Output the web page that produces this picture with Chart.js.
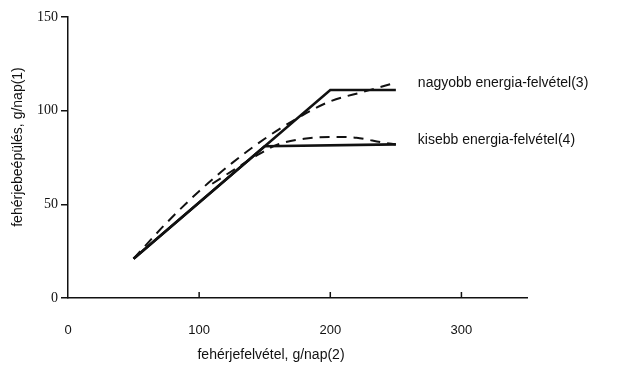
<!DOCTYPE html>
<html>
<head>
<meta charset="utf-8">
<script src="https://cdn.jsdelivr.net/npm/chart.js@4"></script>
<style>
  html, body { margin: 0; padding: 0; background: #fff; }
  #wrap { width: 617px; height: 366px; position: relative; }
</style>
</head>
<body>
<div id="wrap"><canvas id="chart" width="617" height="366"></canvas></div>
<script>
// values (g/nap)
const xTicks = [0, 100, 200, 300];
const yTicks = [0, 50, 100, 150];

const solidHighX = [50, 200, 250];
const solidHighY = [21, 111, 111];
const solidLowX = [50, 150, 250];
const solidLowY = [21, 81, 82];

const dashHighX = [50, 75, 100, 125, 150, 175, 200, 225, 250];
const dashHighY = [21, 40, 57, 72, 85, 96, 105, 110, 115];
const dashLowX = [110, 130, 145, 160, 180, 200, 220, 240, 250];
const dashLowY = [61, 70, 76.5, 82, 85, 86, 85.5, 83, 82];

const seriesLabels = ['nagyobb energia-felvétel(3)', 'kisebb energia-felvétel(4)'];
const xTitle = 'fehérjefelvétel, g/nap(2)';
const yTitle = 'fehérjebeépülés, g/nap(1)';

const pts = (xs, ys) => xs.map((x, i) => ({ x, y: ys[i] }));
const ink = '#111';
const sans = '"Liberation Sans", Arial, sans-serif';

// end-of-line labels, inward x ticks and axis titles
const annotate = {
  id: 'annotate',
  afterDraw(chart) {
    const { ctx, scales: { x, y }, chartArea } = chart;
    ctx.save();
    ctx.fillStyle = ink;
    ctx.strokeStyle = ink;
    ctx.font = '14px ' + sans;
    ctx.textBaseline = 'middle';
    ctx.textAlign = 'left';
    ctx.fillText(seriesLabels[0], x.getPixelForValue(250) + 22, y.getPixelForValue(115) + 1);
    ctx.fillText(seriesLabels[1], x.getPixelForValue(250) + 22, y.getPixelForValue(84.5));

    // small inward ticks on the x axis
    ctx.lineWidth = 1.5;
    for (const v of xTicks.slice(1)) {
      const px = x.getPixelForValue(v);
      ctx.beginPath();
      ctx.moveTo(px, chartArea.bottom);
      ctx.lineTo(px, chartArea.bottom - 6);
      ctx.stroke();
    }

    ctx.textAlign = 'center';
    ctx.fillText(xTitle, 271, 355);
    ctx.translate(18, 147);
    ctx.rotate(-Math.PI / 2);
    ctx.fillText(yTitle, 0, 0);
    ctx.restore();
  }
};

const solid = { borderColor: ink, borderWidth: 2.6, pointRadius: 0, tension: 0, fill: false };
const dashed = { borderColor: ink, borderWidth: 2, borderDash: [10, 7], pointRadius: 0, tension: 0.4, cubicInterpolationMode: 'monotone', fill: false };

new Chart(document.getElementById('chart'), {
  type: 'line',
  data: {
    datasets: [
      { label: seriesLabels[0], data: pts(solidHighX, solidHighY), ...solid },
      { label: seriesLabels[1], data: pts(solidLowX, solidLowY), ...solid },
      { label: seriesLabels[0] + ' (becslés)', data: pts(dashHighX, dashHighY), ...dashed },
      { label: seriesLabels[1] + ' (becslés)', data: pts(dashLowX, dashLowY), ...dashed }
    ]
  },
  options: {
    responsive: false,
    animation: false,
    layout: { padding: { top: 17, right: 90, left: 0, bottom: 0 } },
    plugins: { legend: { display: false }, tooltip: { enabled: false } },
    scales: {
      x: {
        type: 'linear',
        min: 0, max: 350,
        afterBuildTicks: s => { s.ticks = xTicks.map(v => ({ value: v })); },
        afterFit: s => { s.height = 68; },
        grid: { display: false },
        border: { display: true, color: ink, width: 1.5 },
        ticks: {
          color: ink, padding: 17, maxRotation: 0,
          font: { family: sans, size: 13 }
        }
      },
      y: {
        min: 0, max: 150,
        afterBuildTicks: s => { s.ticks = yTicks.map(v => ({ value: v })); },
        afterFit: s => { s.width = 68; },
        grid: { drawOnChartArea: false, tickLength: 7, color: ink, lineWidth: 1.5 },
        border: { display: true, color: ink, width: 1.5 },
        ticks: {
          color: ink, padding: 3,
          font: { family: '"Liberation Serif", "Times New Roman", serif', size: 14 }
        }
      }
    }
  },
  plugins: [annotate]
});
</script>
</body>
</html>
